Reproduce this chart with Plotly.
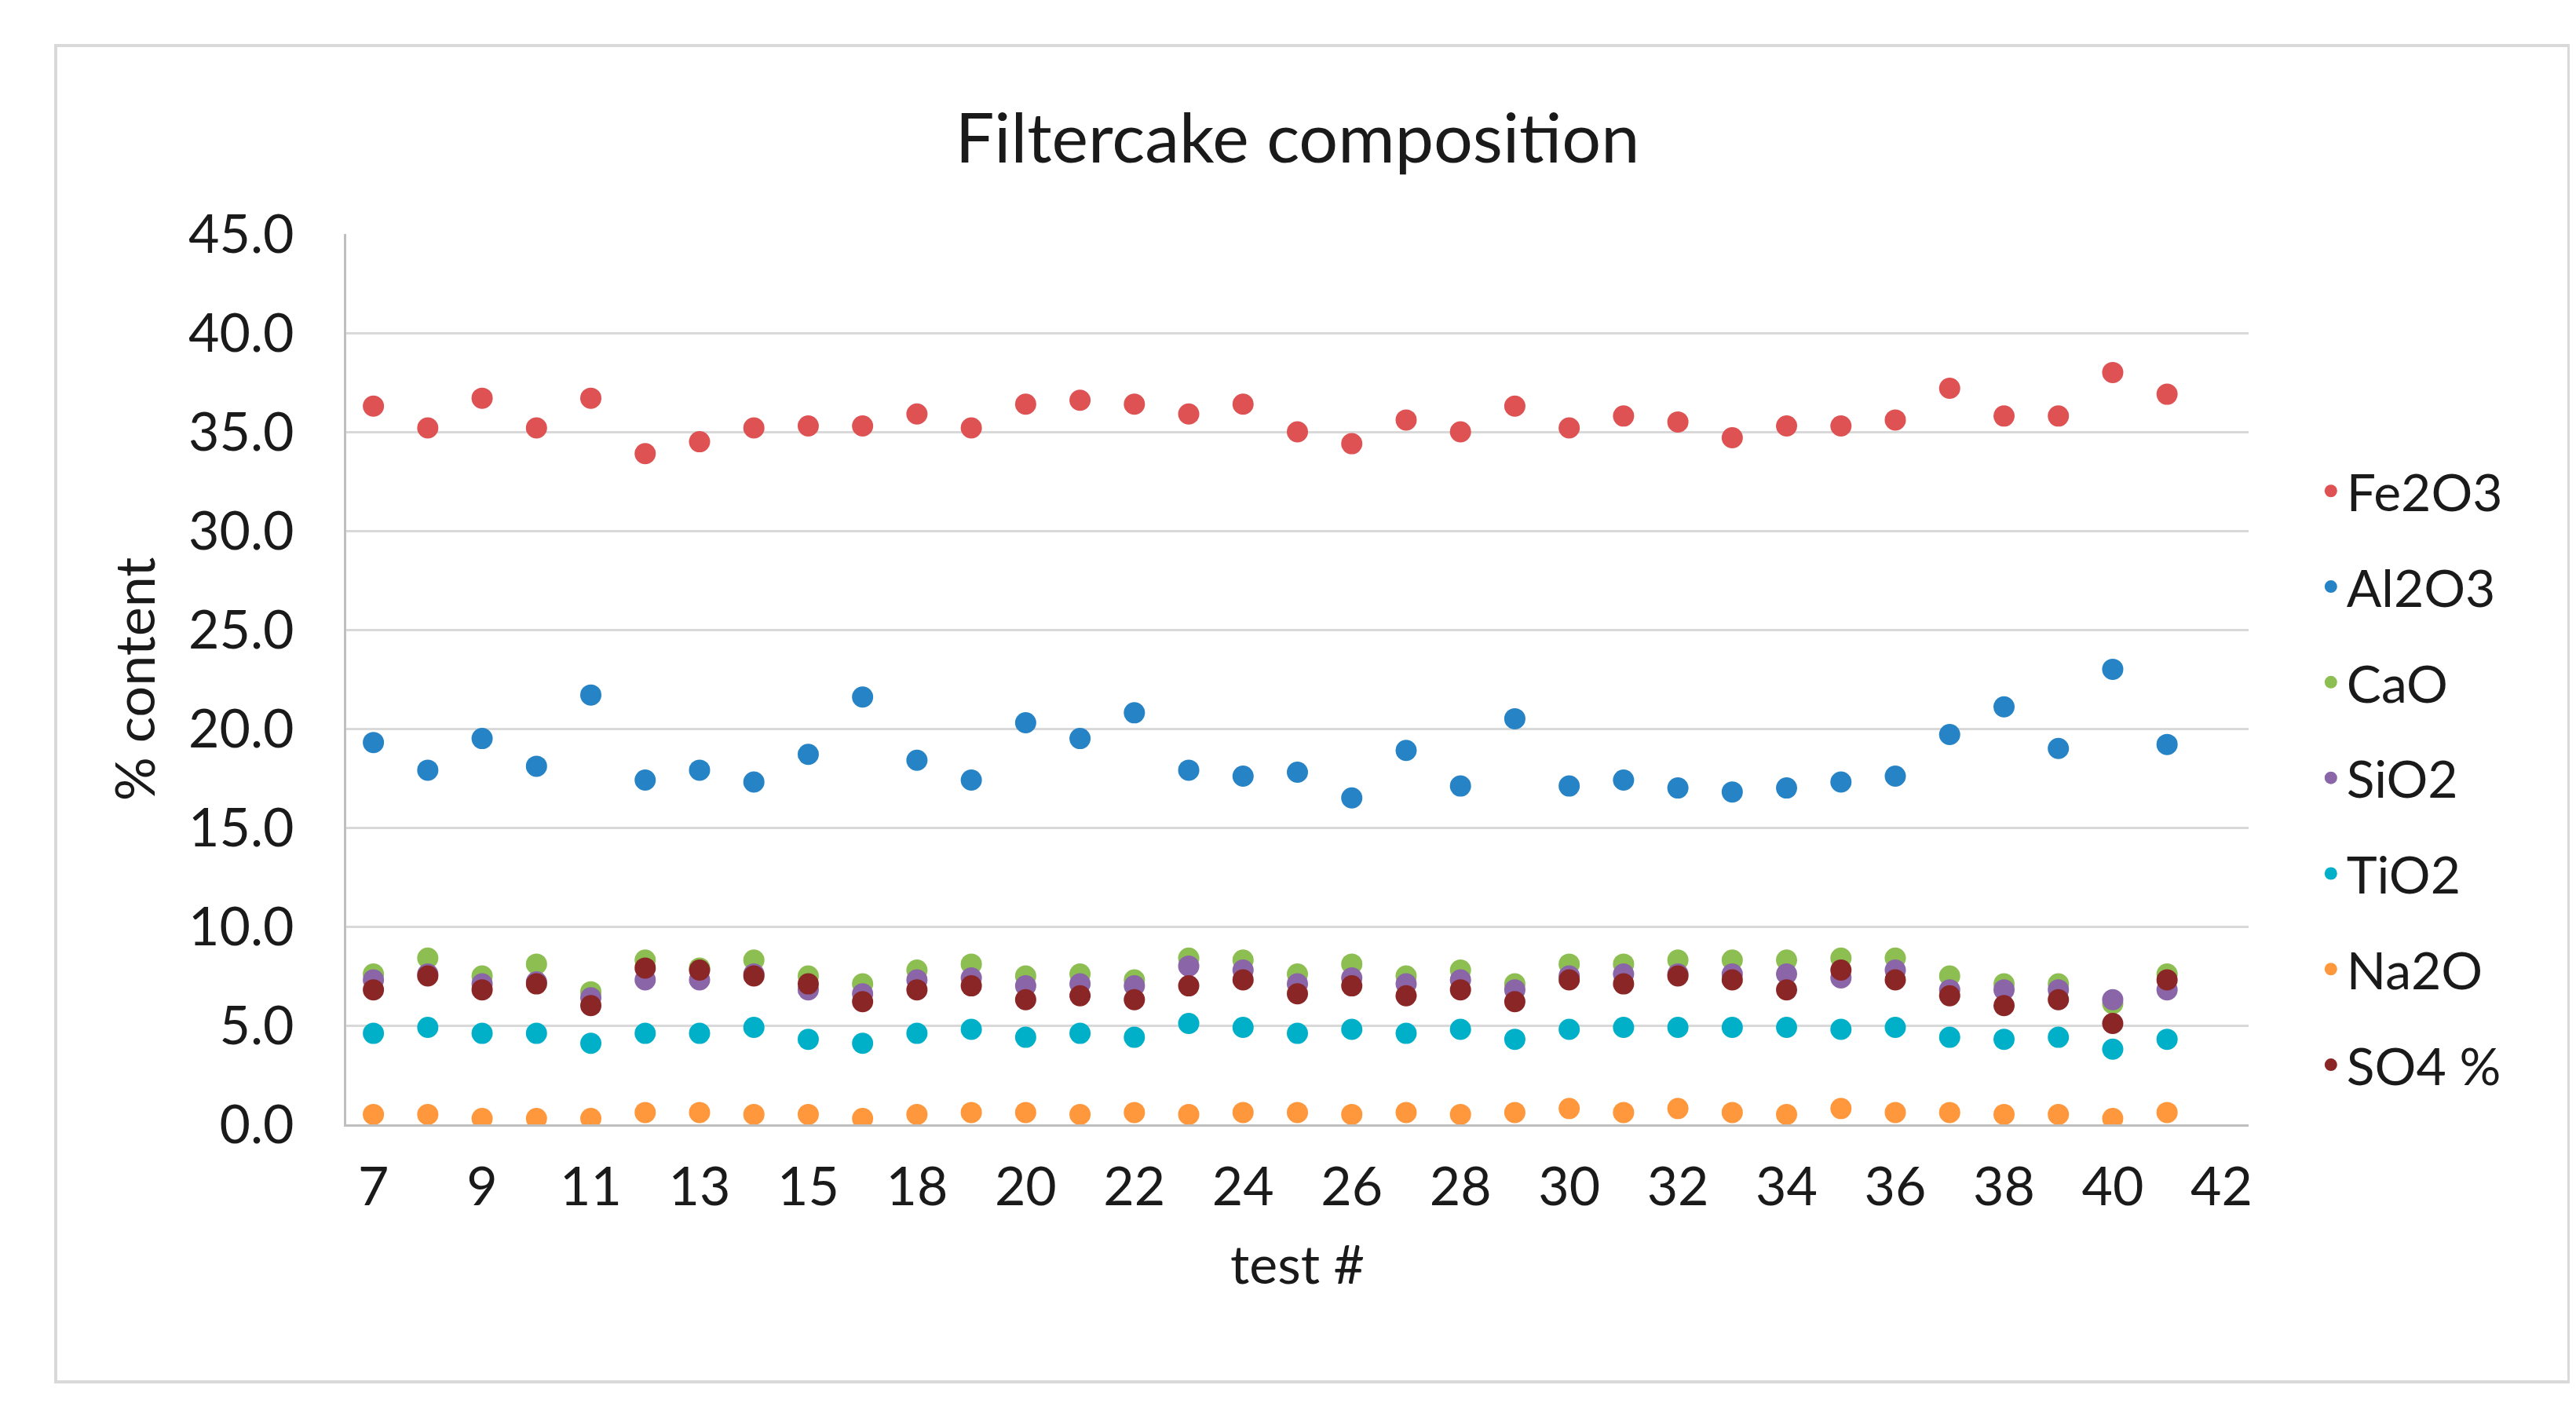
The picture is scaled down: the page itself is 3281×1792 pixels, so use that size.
import plotly.graph_objects as go

# test numbers on the category axis (42 is an empty slot at the end)
tests = ["7", "8", "9", "10", "11", "12", "13", "14", "15", "16",
         "18", "19", "20", "21", "22", "23", "24", "25", "26", "27",
         "28", "29", "30", "31", "32", "33", "34", "35", "36", "37",
         "38", "39", "40", "41", "42"]
tick_labels = ["7", "9", "11", "13", "15", "18", "20", "22", "24", "26",
               "28", "30", "32", "34", "36", "38", "40", "42"]

fe2o3 = [36.3, 35.2, 36.7, 35.2, 36.7, 33.9, 34.5, 35.2, 35.3, 35.3, 35.9, 35.2,
         36.4, 36.6, 36.4, 35.9, 36.4, 35.0, 34.4, 35.6, 35.0, 36.3, 35.2, 35.8,
         35.5, 34.7, 35.3, 35.3, 35.6, 37.2, 35.8, 35.8, 38.0, 36.9]
al2o3 = [19.3, 17.9, 19.5, 18.1, 21.7, 17.4, 17.9, 17.3, 18.7, 21.6, 18.4, 17.4,
         20.3, 19.5, 20.8, 17.9, 17.6, 17.8, 16.5, 18.9, 17.1, 20.5, 17.1, 17.4,
         17.0, 16.8, 17.0, 17.3, 17.6, 19.7, 21.1, 19.0, 23.0, 19.2]
cao = [7.6, 8.4, 7.5, 8.1, 6.7, 8.3, 7.9, 8.3, 7.5, 7.1, 7.8, 8.1,
       7.5, 7.6, 7.3, 8.4, 8.3, 7.6, 8.1, 7.5, 7.8, 7.1, 8.1, 8.1,
       8.3, 8.3, 8.3, 8.4, 8.4, 7.5, 7.1, 7.1, 6.1, 7.6]
sio2 = [7.3, 7.6, 7.1, 7.2, 6.4, 7.3, 7.3, 7.6, 6.8, 6.6, 7.3, 7.4,
        7.0, 7.1, 7.0, 8.0, 7.8, 7.1, 7.4, 7.1, 7.3, 6.8, 7.5, 7.6,
        7.6, 7.6, 7.6, 7.4, 7.8, 6.8, 6.8, 6.8, 6.3, 6.8]
tio2 = [4.6, 4.9, 4.6, 4.6, 4.1, 4.6, 4.6, 4.9, 4.3, 4.1, 4.6, 4.8,
        4.4, 4.6, 4.4, 5.1, 4.9, 4.6, 4.8, 4.6, 4.8, 4.3, 4.8, 4.9,
        4.9, 4.9, 4.9, 4.8, 4.9, 4.4, 4.3, 4.4, 3.8, 4.3]
na2o = [0.5, 0.5, 0.3, 0.3, 0.3, 0.6, 0.6, 0.5, 0.5, 0.3, 0.5, 0.6,
        0.6, 0.5, 0.6, 0.5, 0.6, 0.6, 0.5, 0.6, 0.5, 0.6, 0.8, 0.6,
        0.8, 0.6, 0.5, 0.8, 0.6, 0.6, 0.5, 0.5, 0.3, 0.6]
so4 = [6.8, 7.5, 6.8, 7.1, 6.0, 7.9, 7.8, 7.5, 7.1, 6.2, 6.8, 7.0,
       6.3, 6.5, 6.3, 7.0, 7.3, 6.6, 7.0, 6.5, 6.8, 6.2, 7.3, 7.1,
       7.5, 7.3, 6.8, 7.8, 7.3, 6.5, 6.0, 6.3, 5.1, 7.3]

series = [
    ("Fe2O3", fe2o3, "#DE5253"),
    ("Al2O3", al2o3, "#2683C5"),
    ("CaO", cao, "#8DBE52"),
    ("SiO2", sio2, "#8A65A8"),
    ("TiO2", tio2, "#00B0C8"),
    ("Na2O", na2o, "#FF983D"),
    ("SO4 %", so4, "#8B2627"),
]

FONT = "Lato"
TXT = "#1a1a1a"

fig = go.Figure()
for i, (name, vals, col) in enumerate(series):
    fig.add_trace(go.Scatter(
        x=tests, y=vals + [None] * (len(tests) - len(vals)),
        mode="markers", name=name, legendgroup=str(i),
        marker=dict(color=col, size=27),
    ))

fig.update_layout(
    width=3281, height=1792,
    margin=dict(l=433, r=425, t=290, b=368),
    paper_bgcolor="white", plot_bgcolor="white",
    font=dict(family=FONT, color=TXT, size=68),
    title=dict(text="Filtercake composition", x=0.5, xref="paper",
               y=0.906, yref="container", yanchor="middle", xanchor="center",
               font=dict(size=88, family=FONT, color=TXT)),
    legend=dict(x=1.035, xanchor="left", y=0.389, yanchor="middle",
                font=dict(size=66), tracegroupgap=33, traceorder="grouped",
                itemsizing="trace"),
    showlegend=True,
)

fig.update_xaxes(
    type="category", categoryorder="array", categoryarray=tests,
    range=[-0.5, len(tests) - 0.5],
    tickmode="array", tickvals=tick_labels, ticktext=tick_labels,
    ticks="outside", ticklen=18, tickcolor="rgba(0,0,0,0)",
    showgrid=False, showline=True, linecolor="#BFBFBF", linewidth=3,
    zeroline=False,
    title=dict(text="test #", standoff=40, font=dict(size=68)),
)
fig.update_yaxes(
    range=[0, 45], dtick=5, tickformat=".1f",
    ticks="outside", ticklen=50, tickcolor="rgba(0,0,0,0)",
    showgrid=True, gridcolor="#D9D9D9", gridwidth=3,
    showline=True, linecolor="#BFBFBF", linewidth=3, zeroline=False,
    title=dict(text="% content", standoff=20, font=dict(size=70)),
)

# light outer chart-area border
fig.add_shape(type="rect", xref="paper", yref="paper",
              x0=-0.1527, x1=1.1684, y0=-0.2892, y1=1.2116,
              line=dict(color="#D9D9D9", width=4), layer="below")

fig.write_html("out.html")
